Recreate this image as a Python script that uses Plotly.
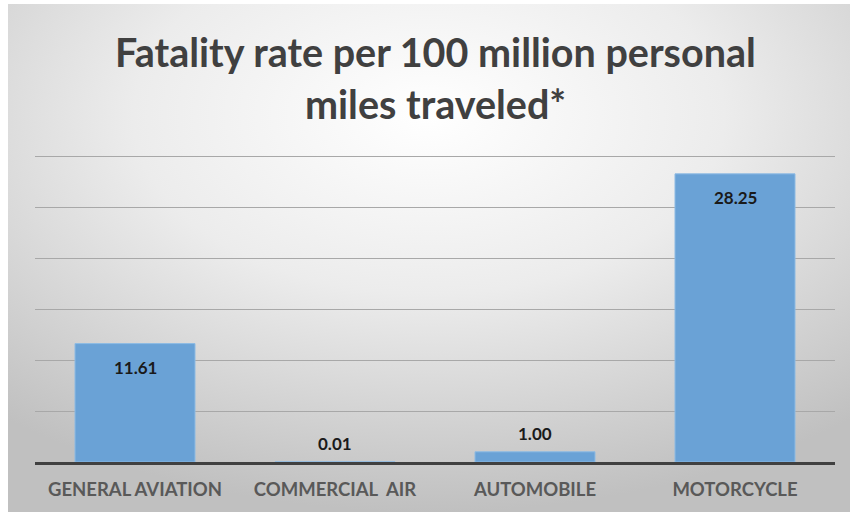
import base64
import plotly.graph_objects as go

# Chart data
categories = ["GENERAL AVIATION", "COMMERCIAL  AIR", "AUTOMOBILE", "MOTORCYCLE"]
rates = [11.61, 0.01, 1.00, 28.25]
title_lines = ["Fatality rate per 100 million personal", "miles traveled*"]
y_ticks = [0, 5, 10, 15, 20, 25, 30]

W, H = 850, 512
FONT = "Lato"

# Plot area in pixels (used to convert pixel positions to paper coordinates)
L, R, T, B = 35, 15, 155, 50
PW, PH = W - L - R, H - T - B


def px_x(x):
    return (x - L) / PW


def px_y(y):
    return (H - B - y) / PH


# Soft radial gradient panel behind the chart (SVG data URI)
svg = """<svg xmlns='http://www.w3.org/2000/svg' width='842' height='508' viewBox='0 0 842 508' preserveAspectRatio='none'>
<defs><radialGradient id='g' cx='50%' cy='22%' r='78%' fx='50%' fy='22%'>
<stop offset='0' stop-color='#ffffff'/>
<stop offset='0.45' stop-color='#ececec'/>
<stop offset='1' stop-color='#c0c0c0'/>
</radialGradient></defs>
<rect width='842' height='508' fill='url(#g)'/></svg>"""
bg_src = "data:image/svg+xml;base64," + base64.b64encode(svg.encode()).decode()

fig = go.Figure(
    go.Bar(
        x=categories,
        y=rates,
        width=0.6,
        marker=dict(color="#6aa2d6", line=dict(color="#8dbbe4", width=1)),
        hoverinfo="x+y",
    )
)

# Value labels: inside the top of tall bars, just above short ones
for cat, val in zip(categories, rates):
    inside = val > 5
    fig.add_annotation(
        x=cat, y=val, xref="x", yref="y",
        text=f"<b>{val:.2f}</b>",
        showarrow=False,
        yanchor="middle",
        yshift=-24 if inside else 18,
        font=dict(family=FONT, size=17, color="#1a1a1a"),
    )

# Two-line title, one annotation per line for wider line spacing
for line, ypix in zip(title_lines, [51, 104]):
    fig.add_annotation(
        x=px_x(435), y=px_y(ypix), xref="paper", yref="paper",
        text=f"<b>{line}</b>",
        showarrow=False, xanchor="center", yanchor="middle",
        font=dict(family=FONT, size=39.5, color="#404040"),
    )

fig.add_layout_image(
    dict(source=bg_src, xref="paper", yref="paper",
         x=px_x(8), y=px_y(4), sizex=(W - 8) / PW, sizey=(H - 4) / PH,
         xanchor="left", yanchor="top", sizing="stretch", layer="below")
)

fig.update_layout(
    width=W, height=H,
    margin=dict(l=L, r=R, t=T, b=B),
    paper_bgcolor="#ffffff",
    plot_bgcolor="rgba(0,0,0,0)",
    showlegend=False,
    bargap=0.4,
)
# Range is padded a touch so the gridline at 30 is drawn
fig.update_yaxes(
    range=[0, 30.1], tickvals=y_ticks, showticklabels=False,
    showgrid=True, gridcolor="#a8a8a8", gridwidth=1,
    zeroline=False, showline=False, fixedrange=True,
)
fig.update_xaxes(
    showline=True, linecolor="#404040", linewidth=2.5,
    ticks="", ticklabelstandoff=9,
    tickfont=dict(family=FONT, size=18.5, color="#595959", weight="bold"),
    fixedrange=True,
)

fig.write_html("out.html")
